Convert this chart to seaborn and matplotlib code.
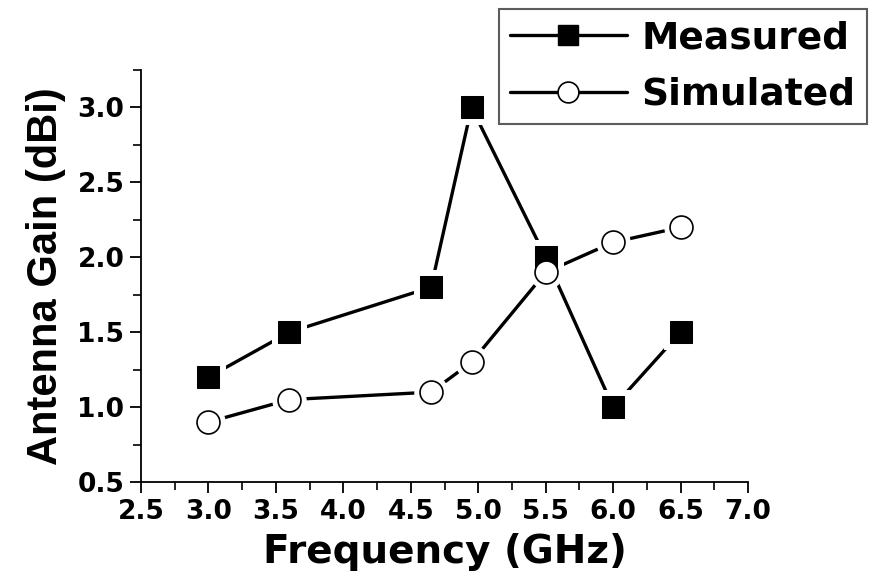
import matplotlib
matplotlib.use("Agg")
import matplotlib.pyplot as plt
import seaborn as sns
import pandas as pd
from matplotlib.lines import Line2D
from matplotlib.ticker import MultipleLocator

sns.set_theme(style="ticks")
plt.rcParams['font.family'] = ['DejaVu Sans']
plt.rcParams.update({"text.color": "black", "axes.labelcolor": "black",
                     "xtick.color": "black", "ytick.color": "black"})

freq = [3.0, 3.6, 4.65, 4.95, 5.5, 6.0, 6.5]
measured = [1.2, 1.5, 1.8, 3.0, 2.0, 1.0, 1.5]
simulated = [0.9, 1.05, 1.1, 1.3, 1.9, 2.1, 2.2]
xticks = [2.5, 3.0, 3.5, 4.0, 4.5, 5.0, 5.5, 6.0, 6.5, 7.0]
yticks = [0.5, 1.0, 1.5, 2.0, 2.5, 3.0]

df = pd.DataFrame({"freq": freq, "Measured": measured, "Simulated": simulated})

fig = plt.figure(figsize=(8.78, 5.72), dpi=100)
ax = fig.add_axes([0.1606, 0.1573, 0.852 - 0.1606, 0.8776 - 0.1573])

lw = 2.4
# lines
sns.lineplot(data=df, x="freq", y="Measured", ax=ax, color="black", lw=lw, zorder=2, sort=False)
sns.lineplot(data=df, x="freq", y="Simulated", ax=ax, color="black", lw=lw, zorder=2, sort=False)
# white halos to create Origin-style gaps
for col, mk in [("Measured", "s"), ("Simulated", "o")]:
    sns.lineplot(data=df, x="freq", y=col, ax=ax, linestyle="none", marker=mk,
                 markersize=24, markerfacecolor="white", markeredgecolor="white", zorder=3, sort=False)
# markers
sns.lineplot(data=df, x="freq", y="Measured", ax=ax, linestyle="none", marker="s",
             markersize=15.5, markerfacecolor="black", markeredgecolor="black", zorder=4, sort=False)
sns.lineplot(data=df, x="freq", y="Simulated", ax=ax, linestyle="none", marker="o",
             markersize=16.5, markerfacecolor="white", markeredgecolor="black",
             markeredgewidth=1.2, zorder=4, sort=False)

ax.set_xlim(2.5, 7.0)
ax.set_ylim(0.5, 3.25)
ax.set_xticks(xticks)
ax.set_yticks(yticks)
ax.set_xticklabels([f"{v:.1f}" for v in xticks])
ax.set_yticklabels([f"{v:.1f}" for v in yticks])
ax.xaxis.set_minor_locator(MultipleLocator(0.25))
ax.yaxis.set_minor_locator(MultipleLocator(0.25))
ax.tick_params(axis="both", which="major", direction="out", length=8, width=1.3,
               color="black", labelsize=19, pad=4)
ax.tick_params(axis="both", which="minor", direction="out", length=6, width=1.2, color="black")
for lab in ax.get_xticklabels() + ax.get_yticklabels():
    lab.set_fontweight("bold")

sns.despine(ax=ax)
for s in ("left", "bottom"):
    ax.spines[s].set_linewidth(1.3)
    ax.spines[s].set_color("black")
ax.set_facecolor("white")

ax.set_xlabel("Frequency (GHz)", fontsize=28, fontweight="bold", labelpad=6)
ax.set_ylabel("Antenna Gain (dBi)", fontsize=30, fontweight="bold", labelpad=8,
              family=["Liberation Sans", "DejaVu Sans"])

handles = [
    Line2D([0], [0], color="black", lw=lw, marker="s", markersize=15,
           markerfacecolor="black", markeredgecolor="black"),
    Line2D([0], [0], color="black", lw=lw, marker="o", markersize=15,
           markerfacecolor="white", markeredgecolor="black", markeredgewidth=1.2),
]
leg = fig.legend(handles, ["Measured", "Simulated"], loc="upper left",
                 bbox_to_anchor=(499 / 878, 1 - 9 / 572), bbox_transform=fig.transFigure,
                 prop={"size": 27, "weight": "bold"}, frameon=True, fancybox=False,
                 handlelength=3.1, handletextpad=0.4, labelspacing=0.55, borderpad=0.3,
                 borderaxespad=0)
leg.get_frame().set_edgecolor("#333333")
leg.get_frame().set_linewidth(1.5)

fig.savefig("out.png", dpi=100, facecolor="white")
